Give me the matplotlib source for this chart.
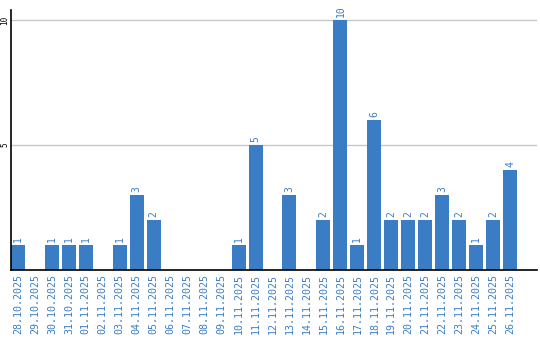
import matplotlib.pyplot as plt

dates = ["28.10.2025", "29.10.2025", "30.10.2025", "31.10.2025", "01.11.2025",
         "02.11.2025", "03.11.2025", "04.11.2025", "05.11.2025", "06.11.2025",
         "07.11.2025", "08.11.2025", "09.11.2025", "10.11.2025", "11.11.2025",
         "12.11.2025", "13.11.2025", "14.11.2025", "15.11.2025", "16.11.2025",
         "17.11.2025", "18.11.2025", "19.11.2025", "20.11.2025", "21.11.2025",
         "22.11.2025", "23.11.2025", "24.11.2025", "25.11.2025", "26.11.2025"]
counts = [1, 0, 1, 1, 1, 0, 1, 3, 2, 0, 0, 0, 0, 1, 5, 0, 3, 0, 2, 10,
          1, 6, 2, 2, 2, 3, 2, 1, 2, 4]
yticks = [5, 10]

blue = "#3b7dc4"
fig = plt.figure(figsize=(5.4, 3.4), dpi=100)
ax = fig.add_axes([11/540, 70/340, 526/540, 260/340])

w = 14/17
x = list(range(len(dates)))
ax.bar(x, counts, width=w, align="edge", color=blue, zorder=2)
for i, v in enumerate(counts):
    if v > 0:
        ax.text(i + w/2, v + 0.12, str(v), rotation=90, ha="center", va="bottom",
                color=blue, fontsize=7, family="DejaVu Sans Mono")

ax.set_xlim(0, 31)
ax.set_ylim(0, 10.4)
ax.set_xticks([i + w/2 for i in x])
ax.set_xticklabels(dates, rotation=90, color=blue, fontsize=7.2, family="DejaVu Sans Mono")
ax.set_yticks(yticks)
ax.set_yticklabels([str(t) for t in yticks], rotation=90, va="center", fontsize=5.5,
                   family="DejaVu Sans Mono")
ax.tick_params(axis="x", length=0, pad=3)
ax.tick_params(axis="y", length=0, pad=1)
ax.grid(axis="y", color="#c8c8c8", linewidth=1, zorder=0)
ax.spines["top"].set_visible(False)
ax.spines["right"].set_visible(False)
ax.spines["left"].set_linewidth(1.2)
ax.spines["bottom"].set_linewidth(1.2)

plt.savefig("out.png")
